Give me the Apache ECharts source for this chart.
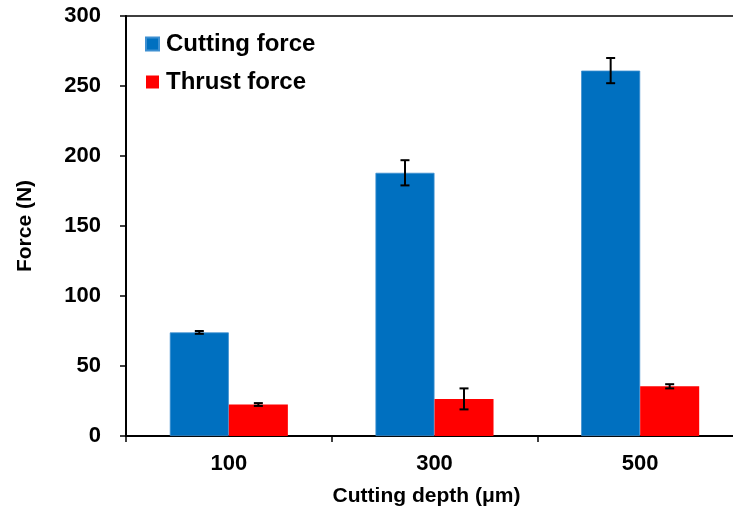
<!DOCTYPE html>
<html>
<head>
<meta charset="utf-8">
<script src="https://cdn.jsdelivr.net/npm/echarts@6/dist/echarts.min.js"></script>
<style>html,body{margin:0;padding:0;background:#fff}#c{width:733px;height:515px}</style>
</head>
<body>
<div id="c"></div>
<script>
const categories = ['100', '300', '500'];
const seriesNames = ['Cutting force', 'Thrust force'];
const cuttingForce = [74, 188, 261];
const cuttingErr = [1, 9, 9];
const thrustForce = [22.5, 26.5, 35.5];
const thrustErr = [1, 7.5, 1.5];
const yTicks = { min: 0, max: 300, interval: 50 };

const BAR_FRAC = 0.287;
const FONT = '"Liberation Sans", Arial, sans-serif';

function errorSeries(values, errs, sideSign) {
  return {
    type: 'custom',
    z: 10,
    silent: true,
    data: values.map((v, i) => [i, v, errs[i]]),
    renderItem: function (params, api) {
      const i = api.value(0), v = api.value(1), e = api.value(2);
      const band = api.size([1, 0])[0];
      const off = sideSign * band * BAR_FRAC / 2;
      const hi = api.coord([i, v + e]);
      const lo = api.coord([i, v - e]);
      const x = hi[0] + off;
      const cap = 4.5;
      const st = { stroke: '#000', lineWidth: 2 };
      return {
        type: 'group',
        children: [
          { type: 'line', shape: { x1: x, y1: hi[1], x2: x, y2: lo[1] }, style: st },
          { type: 'line', shape: { x1: x - cap, y1: hi[1], x2: x + cap, y2: hi[1] }, style: st },
          { type: 'line', shape: { x1: x - cap, y1: lo[1], x2: x + cap, y2: lo[1] }, style: st }
        ]
      };
    }
  };
}

const chart = echarts.init(document.getElementById('c'), null, { renderer: 'canvas' });
chart.setOption({
  animation: false,
  backgroundColor: '#fff',
  textStyle: { fontFamily: FONT },
  grid: { left: 126, width: 617, top: 16, height: 420, outerBoundsMode: 'none', containLabel: false,
          show: true, borderColor: '#000', borderWidth: 1.5, backgroundColor: 'transparent' },
  legend: {
    data: seriesNames,
    orient: 'vertical',
    left: 145, top: 32,
    padding: 0,
    itemWidth: 13, itemHeight: 13,
    itemGap: 14,
    icon: 'rect',
    textStyle: { fontFamily: FONT, fontWeight: 'bold', fontSize: 24, color: '#000', padding: [0, 0, 0, 2] }
  },
  xAxis: {
    type: 'category',
    data: categories,
    name: 'Cutting depth (μm)',
    nameLocation: 'middle',
    nameGap: 50,
    nameTextStyle: { fontFamily: FONT, fontWeight: 'bold', fontSize: 21, color: '#000', padding: [0, 16, 0, 0] },
    axisLine: { lineStyle: { color: '#000', width: 2 } },
    axisTick: { show: true, length: 6, lineStyle: { color: '#000', width: 1.5 } },
    axisLabel: { fontFamily: FONT, fontWeight: 'bold', fontSize: 22, color: '#000', margin: 17 }
  },
  yAxis: {
    type: 'value',
    min: yTicks.min, max: yTicks.max, interval: yTicks.interval,
    name: 'Force (N)',
    nameLocation: 'middle',
    nameGap: 90,
    nameTextStyle: { fontFamily: FONT, fontWeight: 'bold', fontSize: 21, color: '#000' },
    axisLine: { show: true, lineStyle: { color: '#000', width: 2 } },
    axisTick: { show: true, length: 6, lineStyle: { color: '#000', width: 1.5 } },
    splitLine: { show: false },
    axisLabel: { fontFamily: FONT, fontWeight: 'bold', fontSize: 22, color: '#000', margin: 25 }
  },
  series: [
    { name: seriesNames[0], type: 'bar', data: cuttingForce, barWidth: (BAR_FRAC * 100) + '%', barGap: '0%',
      itemStyle: { color: '#0070C0', borderColor: '#3d8fd1', borderWidth: 0.8 } },
    { name: seriesNames[1], type: 'bar', data: thrustForce, barWidth: (BAR_FRAC * 100) + '%', barGap: '0%',
      itemStyle: { color: '#FF0000' } },
    errorSeries(cuttingForce, cuttingErr, -1),
    errorSeries(thrustForce, thrustErr, 1)
  ]
});
</script>
</body>
</html>
